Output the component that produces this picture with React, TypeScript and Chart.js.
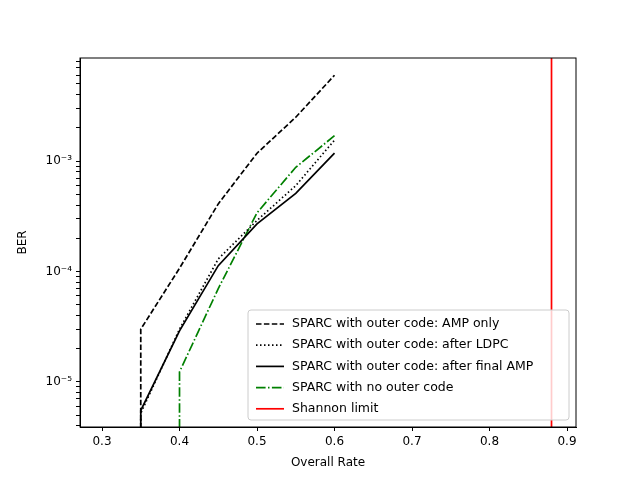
import { useEffect, useRef } from "react";
import { Chart, registerables } from "chart.js";

Chart.register(...registerables);

const ampOnlyX = [0.35, 0.35, 0.4, 0.45, 0.5, 0.55, 0.6];
const ampOnlyY = [1e-6, 3.0e-5, 1.07e-4, 4.1e-4, 1.18e-3, 2.5e-3, 6.0e-3];
const ldpcX = [0.35, 0.35, 0.4, 0.45, 0.5, 0.55, 0.6];
const ldpcY = [1e-6, 5.2e-6, 3.0e-5, 1.3e-4, 2.9e-4, 6.0e-4, 1.55e-3];
const finalX = [0.35, 0.35, 0.4, 0.45, 0.5, 0.55, 0.6];
const finalY = [1e-6, 5.5e-6, 2.9e-5, 1.13e-4, 2.7e-4, 5.1e-4, 1.18e-3];
const noOuterX = [0.4, 0.4, 0.45, 0.5, 0.55, 0.6];
const noOuterY = [1e-6, 1.23e-5, 7.0e-5, 3.4e-4, 8.8e-4, 1.7e-3];
const shannonX = [0.88, 0.88];
const shannonY = [1e-7, 1e-1];
const xTicks = [0.3, 0.4, 0.5, 0.6, 0.7, 0.8, 0.9];
const labels = [
  "SPARC with outer code: AMP only",
  "SPARC with outer code: after LDPC",
  "SPARC with outer code: after final AMP",
  "SPARC with no outer code",
  "Shannon limit",
];

const pts = (xs: number[], ys: number[]) => xs.map((x, i) => ({ x, y: ys[i] }));
const sup: Record<string, string> = { "-": "⁻", "0": "⁰", "1": "¹", "2": "²", "3": "³", "4": "⁴", "5": "⁵", "6": "⁶", "7": "⁷", "8": "⁸", "9": "⁹" };

export default function App() {
  const canvasRef = useRef<HTMLCanvasElement>(null);

  useEffect(() => {
    if (!canvasRef.current) return;
    const font = "'DejaVu Sans', sans-serif";

    const boxAndLegend = {
      id: "boxAndLegend",
      afterDatasetsDraw(chart: any) {
        const { ctx, chartArea: a } = chart;
        ctx.save();
        ctx.strokeStyle = "#000";
        ctx.lineWidth = 1;
        ctx.setLineDash([]);
        ctx.strokeRect(a.left, a.top, a.right - a.left, a.bottom - a.top);
        // legend box
        const w = 321, h = 110;
        const lx = a.right - w - 7, ly = a.bottom - h - 7;
        ctx.fillStyle = "rgba(255,255,255,0.8)";
        ctx.strokeStyle = "#ccc";
        ctx.beginPath();
        ctx.roundRect(lx, ly, w, h, 3);
        ctx.fill();
        ctx.stroke();
        ctx.font = "12.5px " + font;
        ctx.textBaseline = "middle";
        chart.data.datasets.forEach((ds: any, i: number) => {
          const y = ly + 14 + i * 21.2;
          ctx.strokeStyle = ds.borderColor;
          ctx.lineWidth = ds.borderWidth;
          ctx.setLineDash(ds.borderDash || []);
          ctx.beginPath();
          ctx.moveTo(lx + 8, y);
          ctx.lineTo(lx + 36, y);
          ctx.stroke();
          ctx.fillStyle = "#000";
          ctx.fillText(ds.label, lx + 44, y);
        });
        ctx.restore();
      },
    };

    const mk = (label: string, xs: number[], ys: number[], color: string, dash: number[]) => ({
      label,
      data: pts(xs, ys),
      borderColor: color,
      backgroundColor: color,
      borderWidth: 1.7,
      borderDash: dash,
      pointRadius: 0,
      fill: false,
    });

    const chart = new Chart(canvasRef.current, {
      type: "line",
      data: {
        datasets: [
          mk(labels[0], ampOnlyX, ampOnlyY, "#000", [5.5, 2.4]),
          mk(labels[1], ldpcX, ldpcY, "#000", [1.5, 2.5]),
          mk(labels[2], finalX, finalY, "#000", []),
          mk(labels[3], noOuterX, noOuterY, "#008000", [9.6, 2.4, 1.5, 2.4]),
          mk(labels[4], shannonX, shannonY, "#ff0000", []),
        ],
      },
      options: {
        responsive: false,
        animation: false,
        layout: { padding: { top: 58, right: 64, left: 0, bottom: 0 } },
        plugins: { legend: { display: false }, tooltip: { enabled: false } },
        scales: {
          x: {
            type: "linear",
            min: 0.2716,
            max: 0.9116,
            afterFit: (s: any) => { s.height = 53; },
            afterBuildTicks: (s: any) => { s.ticks = xTicks.map((v) => ({ value: v })); },
            ticks: { color: "#000", font: { family: font, size: 12 }, padding: 4, callback: (v: any) => String(Math.round(v * 10) / 10), maxRotation: 0 },
            grid: { drawOnChartArea: false, tickLength: 4, color: "#000" },
            border: { color: "#000" },
            title: { display: true, text: "Overall Rate", color: "#000", font: { family: font, size: 12 }, padding: { top: 2, bottom: 10 } },
          },
          y: {
            type: "logarithmic",
            min: 3.9e-6,
            max: 8.6e-3,
            afterFit: (s: any) => { s.width = 80; },
            afterBuildTicks: (s: any) => {
              const t: any[] = [];
              for (let e = -6; e <= -3; e++) {
                for (let m = 1; m < 10; m++) {
                  const v = m * Math.pow(10, e);
                  if (v >= 3.9e-6 && v <= 8.6e-3) t.push({ value: v, major: m === 1 });
                }
              }
              s.ticks = t;
            },
            ticks: {
              color: "#000",
              font: { family: font, size: 12 },
              padding: 4,
              autoSkip: false,
              callback: (v: any) => {
                const e = Math.log10(v);
                if (Math.abs(e - Math.round(e)) > 1e-6) return "";
                return "10" + String(Math.round(e)).split("").map((c) => sup[c]).join("");
              },
            },
            grid: { drawOnChartArea: false, tickLength: 4, color: "#000" },
            border: { color: "#000" },
            title: { display: true, text: "BER", color: "#000", font: { family: font, size: 12 }, padding: { top: 16, bottom: 0 } },
          },
        },
      },
      plugins: [boxAndLegend],
    } as any);

    return () => chart.destroy();
  }, []);

  return (
    <div style={{ position: "fixed", left: 0, top: 0, width: 640, height: 480, background: "#fff" }}>
      <canvas ref={canvasRef} width={640} height={480} />
    </div>
  );
}
